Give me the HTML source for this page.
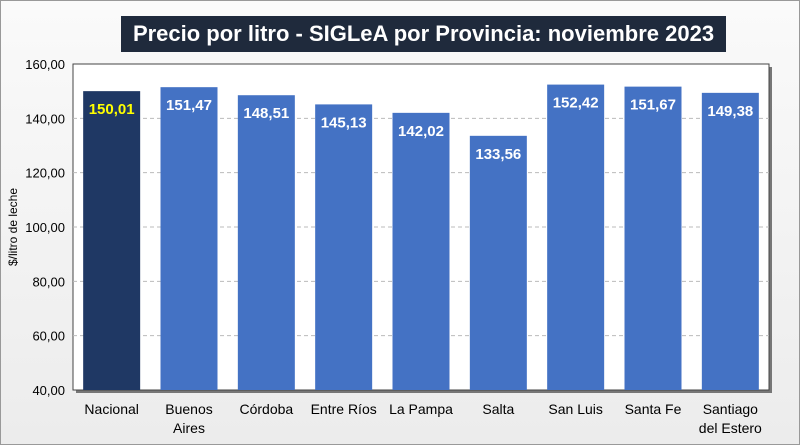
<!DOCTYPE html>
<html><head><meta charset="utf-8"><style>
body{margin:0;width:800px;height:445px;overflow:hidden;font-family:"Liberation Sans",sans-serif}
#wrap{position:absolute;left:0;top:0;width:798px;height:443px;border:1px solid #999;background:linear-gradient(#fafafa,#ececec)}
#title{position:absolute;left:120px;top:15px;width:605px;height:36px;background:#1f2a3c;color:#fff;font-weight:bold;font-size:22px;text-align:center;line-height:36px;white-space:nowrap;font-family:"Liberation Sans",sans-serif}
svg{position:absolute;left:0;top:0}
</style></head><body>
<div id="wrap">
<div id="title">Precio por litro - SIGLeA por Provincia: noviembre 2023</div>
<svg id="chart" width="800" height="445"></svg>
</div>
<script>
const categories=["Nacional","Buenos|Aires","Córdoba","Entre Ríos","La Pampa","Salta","San Luis","Santa Fe","Santiago|del Estero"];
const values=[150.01,151.47,148.51,145.13,142.02,133.56,152.42,151.67,149.38];
const valueLabels=["150,01","151,47","148,51","145,13","142,02","133,56","152,42","151,67","149,38"];
const yTicks=[40,60,80,100,120,140,160];
const yTickLabels=["40,00","60,00","80,00","100,00","120,00","140,00","160,00"];
const L=72,R=768,T=63,B=389,ymin=40,ymax=160;
const svg=document.getElementById('chart');const NS="http://www.w3.org/2000/svg";
const y=v=>B-(v-ymin)/(ymax-ymin)*(B-T);
const bw=(R-L)/categories.length;
const x=i=>L+bw*i+bw/2;
function mk(t,a,p){const e=document.createElementNS(NS,t);for(const k in a)e.setAttribute(k,a[k]);(p||svg).appendChild(e);return e;}
const sh=mk('rect',{x:L+3,y:T+3,width:R-L,height:B-T,fill:'#777'});


const pa=mk('rect',{x:L,y:T,width:R-L,height:B-T,fill:'#fff',stroke:'#444','stroke-width':1});


yTicks.forEach((t,i)=>{
 if(t>ymin&&t<ymax){const g=mk('line',{x1:L,x2:R,y1:y(t),y2:y(t),stroke:'#bbb','stroke-dasharray':'4,3'});
 
 }
 const tx=mk('text',{x:L-8,y:y(t)+5,'text-anchor':'end','font-size':13,fill:'#000'});tx.textContent=yTickLabels[i];
 
 
});
values.forEach((v,i)=>{
 const r=mk('rect',{x:x(i)-28.5,y:y(v),width:57,height:B-y(v),fill:i==0?'#1f3864':'#4472c4'});
 
 
 const t=mk('text',{x:x(i),y:y(v)+23,'text-anchor':'middle','font-size':15,'font-weight':'bold',fill:i==0?'#ffff00':'#fff'});t.textContent=valueLabels[i];
 
 
 categories[i].split('|').forEach((s,j)=>{
  const c=mk('text',{x:x(i),y:413+j*19,'text-anchor':'middle','font-size':14,fill:'#000'});c.textContent=s;
  
  
 });
});
const yt=mk('text',{x:0,y:0,transform:`translate(16,${(T+B)/2}) rotate(-90)`,'text-anchor':'middle','font-size':12,fill:'#000'});yt.textContent='$/litro de leche';


</script>
</body></html>
